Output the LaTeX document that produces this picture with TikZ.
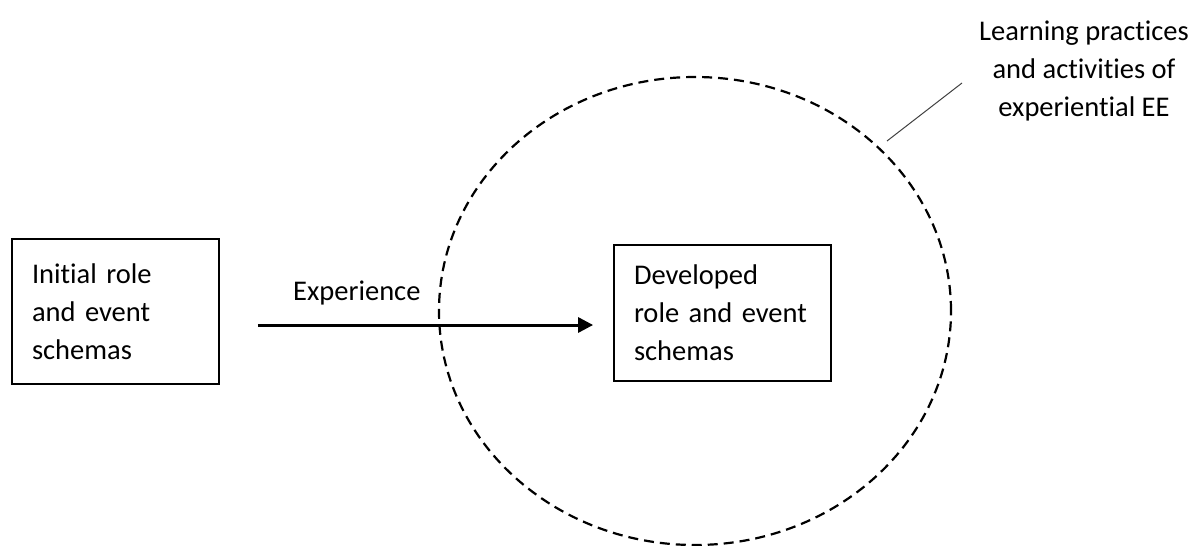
\documentclass[tikz,border=0pt]{standalone}
\usepackage{fontspec}
\setmainfont[RawFeature=-liga]{Carlito}
\usetikzlibrary{arrows.meta,shapes.geometric}
\tikzset{
  schemabox/.style={draw=black, line width=1.8pt, align=left, inner xsep=20pt, inner ysep=0pt, anchor=center,
    font=\fontsize{28.5}{38}\selectfont},
  lbl/.style={font=\fontsize{28.5}{38}\selectfont, inner sep=0pt},
  flow/.style={line width=3pt, -{Triangle[length=15pt,width=15pt]}},
  scope ellipse/.style={draw=black, dash pattern=on 10pt off 6pt, line width=2.2pt, ellipse},
  leader/.style={draw=black!75, line width=1pt}
}
\begin{document}
\begin{tikzpicture}[x=1pt,y=-1pt]
\useasboundingbox (0,0) rectangle (1197,546);
\node[scope ellipse, minimum width=512pt, minimum height=468pt, inner sep=0pt] (ell) at (695,311) {};
\node[schemabox, text width=167pt, minimum height=145pt] (init) at (115.5,311.5) {Initial role\\and event\\schemas};
\node[schemabox, text width=177pt, minimum height=136pt] (dev) at (722.5,313) {Developed\\role and event\\schemas};
\coordinate (arrowrow) at (0,325);
\draw[flow, shorten <=38pt, shorten >=20pt] (init.east |- arrowrow) -- (dev.west |- arrowrow);
\node[lbl, anchor=base west] (exp) at (293,300) {Experience};
\node[lbl, align=center] (ee) at (1084,71) {Learning practices\\and activities of\\experiential EE};
\coordinate (leadA) at (887,141);
\coordinate (leadB) at (962,83);
\draw[leader] (leadA) -- (leadB);
\end{tikzpicture}
\end{document}
